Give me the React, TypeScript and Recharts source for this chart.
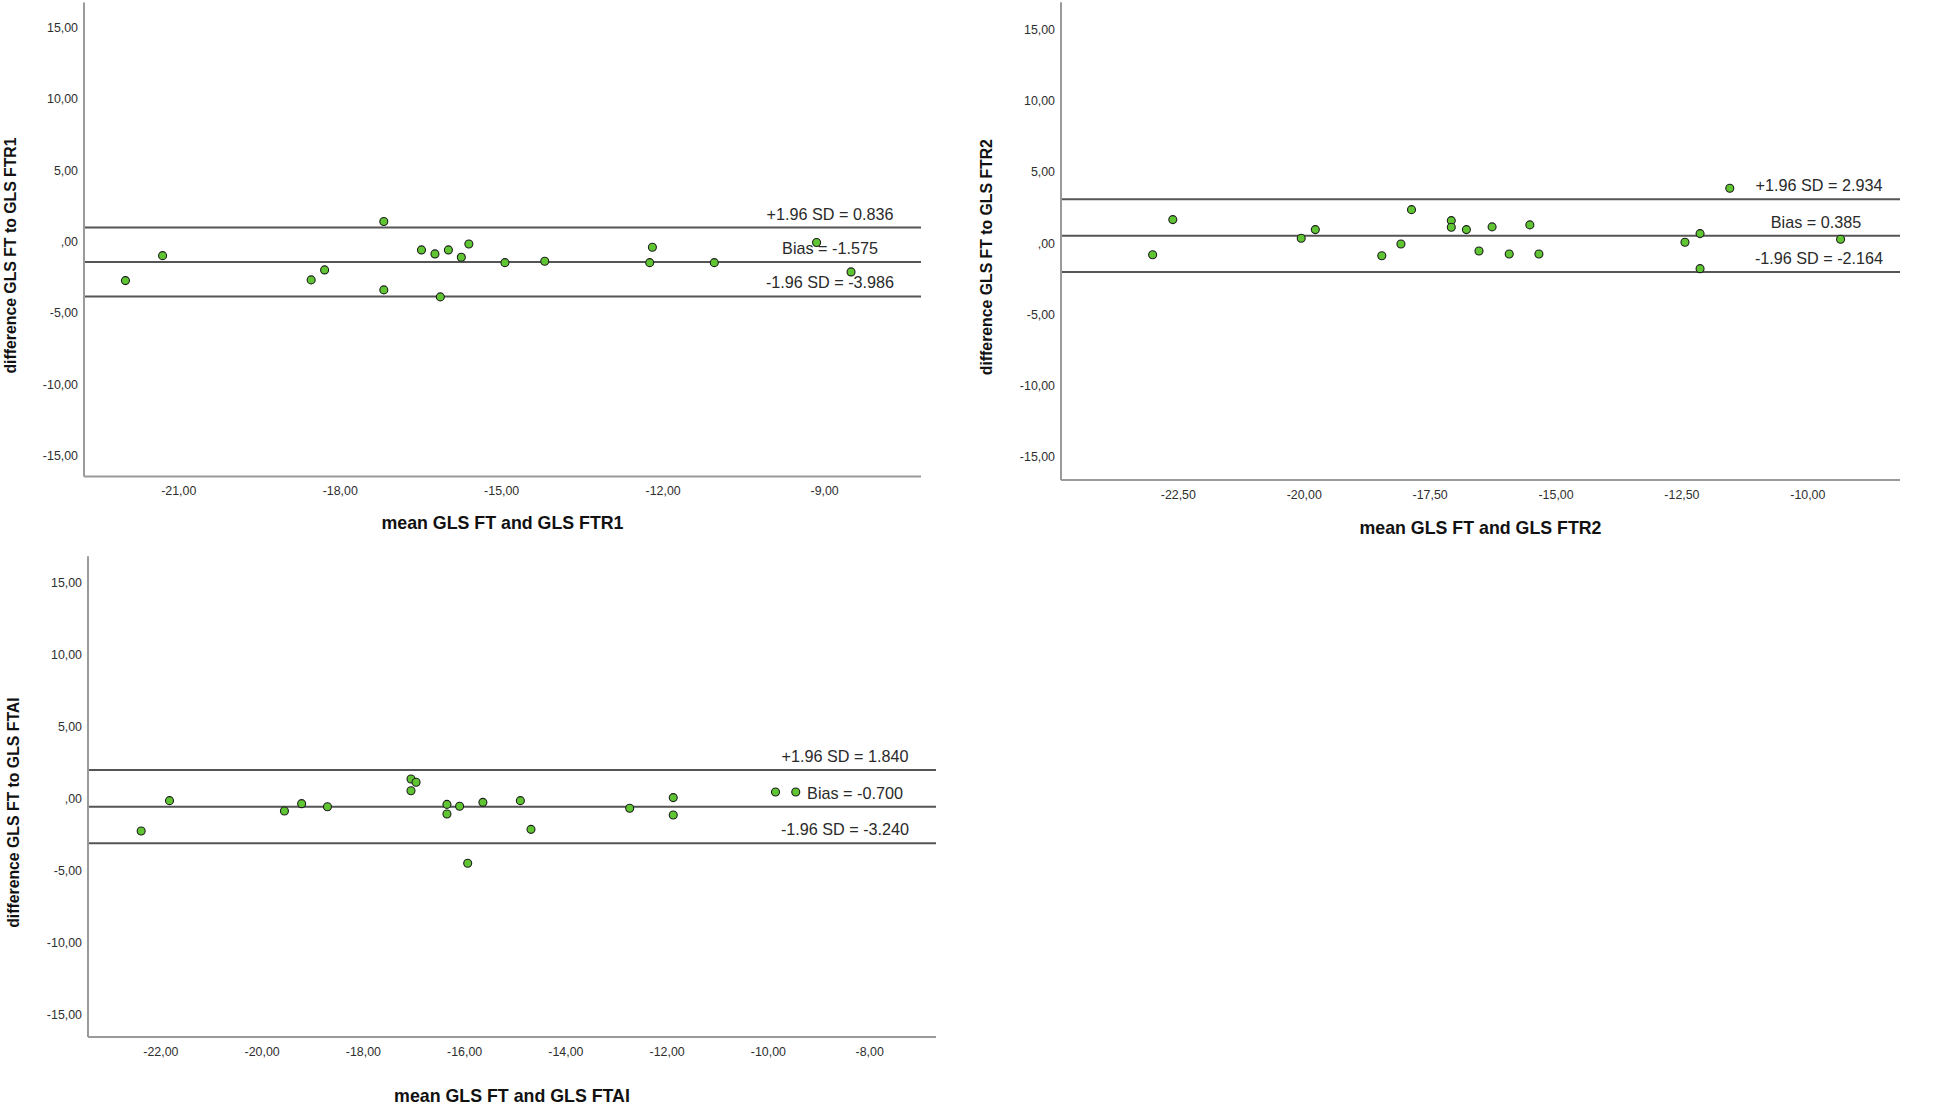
import React from 'react';
import { ScatterChart, Scatter, XAxis, YAxis, ReferenceLine } from 'recharts';

// ---- Data ----
const ftr1Mean = [-21.99, -21.3, -18.54, -18.29, -17.19, -17.19, -16.49, -16.24, -15.99, -15.61, -15.75, -16.14, -14.94, -14.2, -12.2, -12.25, -11.05, -9.15, -8.51];
const ftr1Diff = [-2.88, -1.13, -2.83, -2.13, 1.26, -3.53, -0.73, -1.01, -0.73, -0.31, -1.24, -4.02, -1.62, -1.52, -0.54, -1.62, -1.62, -0.21, -2.27];
const ftr1Stats = [0.836, -1.575, -3.986]; // +1.96 SD, bias, -1.96 SD

const ftr2Mean = [-23.01, -22.61, -20.06, -19.78, -18.46, -18.08, -17.87, -17.08, -17.08, -16.78, -16.53, -16.27, -15.93, -15.52, -15.34, -12.44, -12.14, -12.14, -11.55, -9.35];
const ftr2Diff = [-0.95, 1.51, 0.2, 0.81, -1.02, -0.2, 2.21, 1.44, 0.97, 0.81, -0.69, 1.0, -0.9, 1.14, -0.9, -0.08, 0.53, -1.93, 3.71, 0.13];
const ftr2Stats = [2.934, 0.385, -2.164];

const ftaiMean = [-22.39, -21.83, -19.56, -19.22, -18.71, -17.06, -16.96, -17.06, -16.35, -16.35, -16.1, -15.94, -15.64, -14.9, -14.69, -12.74, -11.88, -11.88, -9.86, -9.46];
const ftaiDiff = [-2.38, -0.28, -1.0, -0.49, -0.7, 1.22, 0.99, 0.41, -0.54, -1.21, -0.67, -4.62, -0.4, -0.28, -2.27, -0.81, -0.07, -1.28, 0.32, 0.32];
const ftaiStats = [1.84, -0.7, -3.24];

const ftr1Ticks = [-21, -18, -15, -12, -9];
const ftr2Ticks = [-22.5, -20, -17.5, -15, -12.5, -10];
const ftaiTicks = [-22, -20, -18, -16, -14, -12, -10, -8];
const diffTicks = [-15, -10, -5, 0, 5, 10, 15];

const toPoints = (xs: number[], ys: number[]) => xs.map((x, i) => ({ x, y: ys[i] }));

const FONT = '"Liberation Sans", Arial, Helvetica, sans-serif';

const fmt = (v: number) => {
  let s = Math.abs(v).toFixed(2).replace('.', ',');
  if (s.startsWith('0,')) s = s.slice(1);
  return (v < 0 ? '-' : '') + s;
};

const Dot = (p: any) => (
  <circle cx={p.cx} cy={p.cy} r={4} fill="#5fc532" stroke="#1e1e1e" strokeWidth={1.1} />
);

type PanelProps = {
  left: number; top: number; width: number; height: number;
  plotLeft: number; plotRight: number; plotTop: number; plotBottom: number;
  xDomain: [number, number]; yDomain: [number, number]; xTicks: number[];
  data: { x: number; y: number }[]; stats: number[];
  xLabel: string; yLabel: string; annotFromRight: number; biasShift: number; xLabelBaseline: number;
};

function Panel(props: PanelProps) {
  const { left, top, width, height, plotLeft, plotRight, plotTop, plotBottom, xDomain, yDomain, xTicks, data, stats, xLabel, yLabel, annotFromRight, biasShift, xLabelBaseline } = props;
  const annotX = plotRight - annotFromRight;
  const texts = [
    `+1.96 SD = ${stats[0].toFixed(3)}`,
    `Bias = ${stats[1].toFixed(3)}`,
    `-1.96 SD = ${stats[2].toFixed(3)}`,
  ];
  const mkLabel = (t: string, shift: number) => (lp: any) => {
    const vb = lp.viewBox || {};
    return (
      <text x={annotX + shift} y={(vb.y ?? 0) - 8} textAnchor="middle" fontFamily={FONT} fontSize={16.2} fill="#2a2a2a">
        {t}
      </text>
    );
  };
  const plotMidY = (plotTop + plotBottom) / 2;
  return (
    <div style={{ position: 'absolute', left, top, width, height }}>
      <ScatterChart width={width} height={height} margin={{ top: plotTop, right: width - plotRight, bottom: 0, left: 0 }}>
        <XAxis
          type="number" dataKey="x" domain={xDomain} ticks={xTicks} interval={0} allowDataOverflow
          tickFormatter={fmt} tickLine={false} tickSize={0} tickMargin={10}
          axisLine={{ stroke: '#9a9a9a', strokeWidth: 2 }}
          height={height - plotBottom}
          tick={{ fontSize: 12.4, fill: '#2e2e2e', fontFamily: FONT }}
          label={() => (
            <text x={(plotLeft + plotRight) / 2} y={xLabelBaseline} textAnchor="middle" fontFamily={FONT} fontSize={17.8} fontWeight="bold" fill="#111">
              {xLabel}
            </text>
          )}
        />
        <YAxis
          type="number" dataKey="y" domain={yDomain} ticks={diffTicks} interval={0} allowDataOverflow
          tickFormatter={fmt} tickLine={false} tickSize={0} tickMargin={6}
          axisLine={{ stroke: '#9a9a9a', strokeWidth: 2 }}
          width={plotLeft}
          tick={{ fontSize: 12.4, fill: '#2e2e2e', fontFamily: FONT, dy: 2 }}
          label={() => {
            const cx = plotLeft - 74;
            const cy = plotMidY + 16;
            return (
              <text x={cx} y={cy} transform={`rotate(-90 ${cx} ${cy})`} textAnchor="middle" dominantBaseline="central" fontFamily={FONT} fontSize={15.8} fontWeight="bold" fill="#111">
                {yLabel}
              </text>
            );
          }}
        />
        <ReferenceLine y={stats[0]} stroke="#555" strokeWidth={2} label={mkLabel(texts[0], 0)} />
        <ReferenceLine y={stats[1]} stroke="#555" strokeWidth={2} label={mkLabel(texts[1], biasShift)} />
        <ReferenceLine y={stats[2]} stroke="#555" strokeWidth={2} label={mkLabel(texts[2], 0)} />
        <Scatter data={data} dataKey="y" shape={Dot} isAnimationActive={false} />
      </ScatterChart>
    </div>
  );
}

export default function App() {
  return (
    <div style={{ position: 'absolute', left: 0, top: 0, width: 1959, height: 1104, background: '#fff', overflow: 'hidden' }}>
      <Panel
        left={0} top={0} width={945} height={545}
        plotLeft={84} plotRight={921} plotTop={2.5} plotBottom={476.5}
        xDomain={[-22.76, -7.21]} yDomain={[-16.6, 16.6]} xTicks={ftr1Ticks}
        data={toPoints(ftr1Mean, ftr1Diff)} stats={ftr1Stats}
        xLabel="mean GLS FT and GLS FTR1" yLabel="difference GLS FT to GLS FTR1"
        annotFromRight={91} biasShift={0} xLabelBaseline={528.5}
      />
      <Panel
        left={960} top={0} width={960} height={545}
        plotLeft={101} plotRight={940} plotTop={2.3} plotBottom={480}
        xDomain={[-24.83, -8.17]} yDomain={[-16.75, 16.75]} xTicks={ftr2Ticks}
        data={toPoints(ftr2Mean, ftr2Diff)} stats={ftr2Stats}
        xLabel="mean GLS FT and GLS FTR2" yLabel="difference GLS FT to GLS FTR2"
        annotFromRight={81} biasShift={-3} xLabelBaseline={533.5}
      />
      <Panel
        left={0} top={545} width={945} height={559}
        plotLeft={88} plotRight={936} plotTop={11.3} plotBottom={491.9}
        xDomain={[-23.44, -6.69]} yDomain={[-16.65, 16.65]} xTicks={ftaiTicks}
        data={toPoints(ftaiMean, ftaiDiff)} stats={ftaiStats}
        xLabel="mean GLS FT and GLS FTAI" yLabel="difference GLS FT to GLS FTAI"
        annotFromRight={91} biasShift={10} xLabelBaseline={556.5}
      />
    </div>
  );
}
